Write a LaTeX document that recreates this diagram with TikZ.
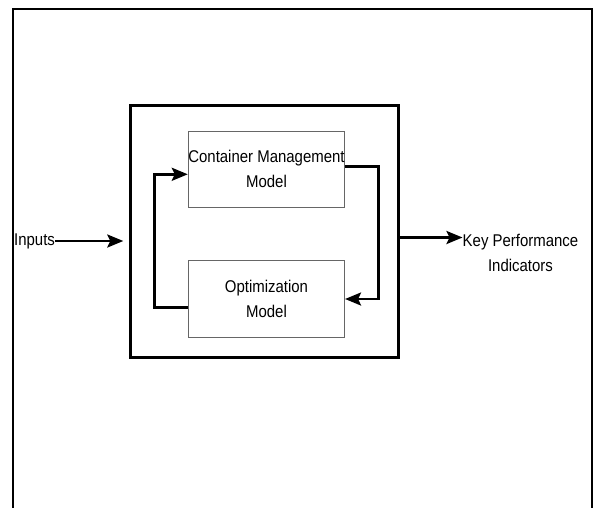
\documentclass[tikz,border=0pt]{standalone}
\usepackage{fontspec}
\setmainfont{Liberation Sans}[FakeStretch=0.88]
\usetikzlibrary{arrows.meta}
\begin{document}
\begin{tikzpicture}[x=1pt,y=-1pt,
  txt/.style={font=\fontsize{17}{25}\selectfont, align=center, inner sep=0pt},
  model/.style={draw=black!60, line width=1.1pt, fill=white, txt},
  arr/.style={line width=2.6pt, -{Stealth[length=16pt,width=13pt,inset=3pt]}},
  frame/.style={line width=2.8pt}]
\useasboundingbox (0,0) rectangle (594,507);
\coordinate (fbl) at (13,510);
\coordinate (ftl) at (13,9);
\coordinate (ftr) at (592,9);
\coordinate (fbr) at (592,510);
\draw[frame] (fbl) -- (ftl) -- (ftr) -- (fbr);
\node[draw, line width=3.4pt, minimum width=268pt, minimum height=252pt] (big) at (264.5,231.5) {};
\node[model, minimum width=156pt, minimum height=76.5pt] (cm) at (266.5,169.3) {Container Management\\Model};
\node[model, minimum width=156pt, minimum height=76.5pt] (om) at (266.5,299) {Optimization\\Model};
\node[txt, anchor=west] (in) at (14,241) {Inputs};
\node[txt, anchor=west] (kpi) at (462.5,252.5) {Key Performance\\Indicators};
\coordinate (ko) at ([yshift=-6pt]big.east);
\draw[arr] (in.east) -- ([xshift=-5.5pt]big.west |- in.east);
\draw[arr] (ko) -- (kpi.west |- ko);
\draw[arr] ([yshift=-8.7pt]om.west) -- ++(-33.5,0) |- ([yshift=-5pt]cm.west);
\draw[arr] ([yshift=3pt]cm.east) -- ++(33.5,0) |- (om.east);
\end{tikzpicture}
\end{document}
